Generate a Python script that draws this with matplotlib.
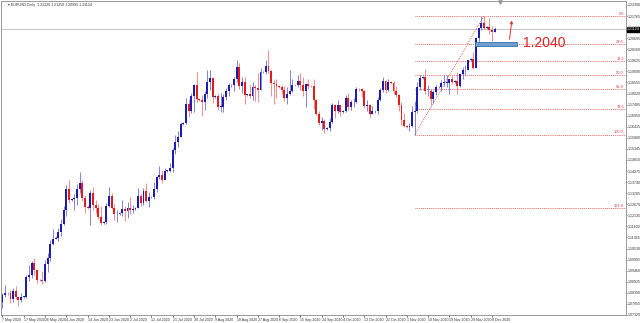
import numpy as np
import pandas as pd
import matplotlib.pyplot as plt
from matplotlib.patches import Rectangle
from matplotlib.transforms import blended_transform_factory

# EURUSD daily bars (Sun-Fri sessions), 7 May 2020 - 9 Dec 2020
first_open = 1.0795
closes = [
    1.0830, 1.0840,
    1.0838, 1.0808, 1.0849, 1.0817, 1.0805, 1.0819,
    1.0820, 1.0915, 1.0923, 1.0981, 1.0949, 1.0900,
    1.0902, 1.0897, 1.0980, 1.1008, 1.1077, 1.1100,
    1.1105, 1.1135, 1.1170, 1.1240, 1.1340, 1.1290,
    1.1292, 1.1295, 1.1340, 1.1370, 1.1298, 1.1256,
    1.1250, 1.1320, 1.1263, 1.1250, 1.1204, 1.1176,
    1.1180, 1.1260, 1.1307, 1.1250, 1.1219, 1.1220,
    1.1225, 1.1245, 1.1234, 1.1250, 1.1240, 1.1245,
    1.1248, 1.1308, 1.1274, 1.1330, 1.1285, 1.1300,
    1.1302, 1.1342, 1.1398, 1.1410, 1.1383, 1.1428,
    1.1430, 1.1443, 1.1527, 1.1568, 1.1594, 1.1656,
    1.1660, 1.1752, 1.1716, 1.1788, 1.1845, 1.1778,
    1.1770, 1.1763, 1.1800, 1.1858, 1.1875, 1.1786,
    1.1790, 1.1738, 1.1739, 1.1785, 1.1813, 1.1841,
    1.1843, 1.1870, 1.1930, 1.1838, 1.1860, 1.1795,
    1.1798, 1.1790, 1.1833, 1.1830, 1.1820, 1.1905,
    1.1908, 1.1935, 1.1913, 1.1855, 1.1850, 1.1837,
    1.1835, 1.1817, 1.1779, 1.1800, 1.1815, 1.1845,
    1.1843, 1.1865, 1.1845, 1.1815, 1.1847, 1.1840,
    1.1838, 1.1770, 1.1705, 1.1658, 1.1670, 1.1632,
    1.1635, 1.1665, 1.1745, 1.1720, 1.1746, 1.1715,
    1.1718, 1.1781, 1.1735, 1.1760, 1.1760, 1.1825,
    1.1822, 1.1813, 1.1742, 1.1746, 1.1705, 1.1717,
    1.1718, 1.1770, 1.1820, 1.1862, 1.1818, 1.1860,
    1.1855, 1.1813, 1.1795, 1.1746, 1.1675, 1.1645,
    1.1640, 1.1643, 1.1715, 1.1720, 1.1832, 1.1875,
    1.1880, 1.1812, 1.1815, 1.1775, 1.1808, 1.1833,
    1.1835, 1.1855, 1.1855, 1.1855, 1.1870, 1.1860,
    1.1865, 1.1840, 1.1895, 1.1915, 1.1915, 1.1965,
    1.1968, 1.1925, 1.2070, 1.2117, 1.2145, 1.2120,
    1.2122, 1.2110, 1.2100, 1.2114,
]
highs = [
    1.0840, 1.0875,
    1.0845, 1.0852, 1.0863, 1.0874, 1.0826, 1.0836,
    1.0825, 1.0925, 1.0975, 1.0993, 1.1008, 1.0953,
    1.0905, 1.0947, 1.0996, 1.1030, 1.1094, 1.1147,
    1.1112, 1.1154, 1.1196, 1.1257, 1.1361, 1.1384,
    1.1298, 1.1319, 1.1364, 1.1422, 1.1385, 1.1310,
    1.1262, 1.1336, 1.1350, 1.1289, 1.1270, 1.1257,
    1.1185, 1.1275, 1.1349, 1.1323, 1.1270, 1.1237,
    1.1230, 1.1287, 1.1259, 1.1278, 1.1303, 1.1262,
    1.1252, 1.1346, 1.1318, 1.1346, 1.1371, 1.1325,
    1.1308, 1.1375, 1.1406, 1.1452, 1.1434, 1.1443,
    1.1435, 1.1468, 1.1539, 1.1601, 1.1620, 1.1667,
    1.1665, 1.1781, 1.1776, 1.1806, 1.1846, 1.1908,
    1.1782, 1.1796, 1.1815, 1.1916, 1.1916, 1.1882,
    1.1795, 1.1806, 1.1805, 1.1800, 1.1829, 1.1853,
    1.1848, 1.1884, 1.1966, 1.1951, 1.1882, 1.1883,
    1.1802, 1.1845, 1.1859, 1.1844, 1.1900, 1.1925,
    1.1912, 1.1966, 1.2011, 1.1915, 1.1867, 1.1872,
    1.1840, 1.1843, 1.1838, 1.1832, 1.1917, 1.1872,
    1.1850, 1.1890, 1.1900, 1.1883, 1.1853, 1.1873,
    1.1845, 1.1870, 1.1775, 1.1720, 1.1688, 1.1680,
    1.1640, 1.1685, 1.1755, 1.1751, 1.1770, 1.1749,
    1.1722, 1.1795, 1.1806, 1.1771, 1.1781, 1.1832,
    1.1828, 1.1830, 1.1820, 1.1771, 1.1750, 1.1740,
    1.1722, 1.1785, 1.1830, 1.1880, 1.1869, 1.1870,
    1.1862, 1.1861, 1.1837, 1.1802, 1.1760, 1.1706,
    1.1650, 1.1662, 1.1743, 1.1768, 1.1860, 1.1891,
    1.1885, 1.1920, 1.1844, 1.1823, 1.1817, 1.1843,
    1.1838, 1.1866, 1.1894, 1.1891, 1.1873, 1.1891,
    1.1868, 1.1905, 1.1901, 1.1932, 1.1940, 1.1966,
    1.1972, 1.2003, 1.2077, 1.2120, 1.2175, 1.2177,
    1.2128, 1.2167, 1.2130, 1.2125,
]
lows = [
    1.0767, 1.0820,
    1.0830, 1.0792, 1.0795, 1.0808, 1.0775, 1.0795,
    1.0812, 1.0812, 1.0896, 1.0913, 1.0926, 1.0886,
    1.0895, 1.0880, 1.0890, 1.0940, 1.0993, 1.1070,
    1.1098, 1.1088, 1.1115, 1.1166, 1.1208, 1.1272,
    1.1285, 1.1241, 1.1264, 1.1322, 1.1281, 1.1225,
    1.1245, 1.1168, 1.1238, 1.1225, 1.1195, 1.1168,
    1.1172, 1.1170, 1.1255, 1.1243, 1.1190, 1.1182,
    1.1215, 1.1210, 1.1188, 1.1201, 1.1220, 1.1225,
    1.1240, 1.1248, 1.1260, 1.1264, 1.1276, 1.1252,
    1.1296, 1.1294, 1.1327, 1.1390, 1.1372, 1.1388,
    1.1424, 1.1422, 1.1424, 1.1510, 1.1545, 1.1592,
    1.1650, 1.1654, 1.1689, 1.1707, 1.1713, 1.1762,
    1.1765, 1.1696, 1.1722, 1.1781, 1.1819, 1.1755,
    1.1782, 1.1723, 1.1711, 1.1711, 1.1773, 1.1789,
    1.1836, 1.1815, 1.1860, 1.1825, 1.1803, 1.1753,
    1.1790, 1.1780, 1.1771, 1.1766, 1.1762, 1.1820,
    1.1900, 1.1896, 1.1902, 1.1789, 1.1754, 1.1781,
    1.1828, 1.1800, 1.1765, 1.1754, 1.1794, 1.1810,
    1.1838, 1.1833, 1.1820, 1.1788, 1.1737, 1.1826,
    1.1832, 1.1726, 1.1700, 1.1650, 1.1627, 1.1612,
    1.1628, 1.1623, 1.1660, 1.1682, 1.1710, 1.1696,
    1.1710, 1.1715, 1.1725, 1.1721, 1.1738, 1.1755,
    1.1815, 1.1786, 1.1730, 1.1718, 1.1689, 1.1703,
    1.1710, 1.1702, 1.1764, 1.1808, 1.1806, 1.1812,
    1.1848, 1.1802, 1.1784, 1.1718, 1.1650, 1.1640,
    1.1635, 1.1622, 1.1640, 1.1603, 1.1710, 1.1819,
    1.1870, 1.1799, 1.1788, 1.1746, 1.1758, 1.1796,
    1.1828, 1.1812, 1.1838, 1.1834, 1.1800, 1.1849,
    1.1855, 1.1801, 1.1834, 1.1872, 1.1893, 1.1915,
    1.1960, 1.1923, 1.1924, 1.2040, 1.2107, 1.2115,
    1.2115, 1.2092, 1.2058, 1.2100,
]

# fibonacci retracement drawn from the 4 Nov low to the 4 Dec high
fib_low = 1.1603
fib_high = 1.2177
fib_levels = [0.0, 23.6, 38.2, 50.0, 61.8, 78.6, 100.0, 161.8]
fib_start_date = '2020-11-04'
fib_end_date = '2020-12-04'

bid_price = 1.21124
header = '\u25be EURUSD,Daily  1.21220 1.21250 1.20995 1.21124'
note_text = '1.2040'
note_level = 1.2040
ytick_step = 0.00535
ytick_top = 1.22300

fams = ['Liberation Sans', 'DejaVu Sans']
small = dict(fontsize=2.6, family=fams, color='#333333')

dates = pd.bdate_range('2020-05-07', '2020-12-09', freq='C',
                       weekmask='Sun Mon Tue Wed Thu Fri')
closes = np.array(closes)
highs = np.array(highs)
lows = np.array(lows)
opens = np.concatenate([[first_open], closes[:-1]])
idx = np.arange(len(closes))

fig = plt.figure(figsize=(6.4, 3.23), dpi=100)
ax = fig.add_axes([1 / 640, 8 / 323, 625 / 640, 314 / 323])

bull = closes >= opens
body_col = np.where(bull, '#1c1cb4', '#e41a1c')
wick_col = np.where(bull, '#6f6fd8', '#f27a7a')
ax.vlines(idx, lows, highs, colors=wick_col, linewidth=0.6, zorder=2)
body_h = np.maximum(np.abs(closes - opens), 0.00025)
ax.bar(idx, body_h, bottom=np.minimum(opens, closes), width=0.72,
       color=body_col, linewidth=0, zorder=3)

# bid line
ax.axhline(bid_price, color='#bdbdbd', linewidth=0.6, zorder=1)

# fibonacci object
i0 = dates.get_loc(pd.Timestamp(fib_start_date))
i1 = dates.get_loc(pd.Timestamp(fib_end_date))
xmin, xmax = -0.56, 234.4
fib_col = '#e03a3a'
for lev in fib_levels:
    price = fib_high - (fib_high - fib_low) * lev / 100
    ax.plot([i0, xmax - 0.5], [price, price], color=fib_col, linewidth=0.6,
            linestyle=(0, (1, 1.3)), zorder=1)
    ax.text(xmax - 0.8, price + 0.0002, f'{lev:.1f}', color=fib_col,
            fontsize=2.8, family=fams, ha='right', va='bottom')
ax.plot([i0, i1], [fib_low, fib_high], color=fib_col, linewidth=0.6,
        linestyle=(0, (1, 1.3)), zorder=1)

# level marker, label and arrow
ax.add_patch(Rectangle((177.6, note_level - 0.0009), 15.8, 0.0019,
                       facecolor='#6d9fd2', edgecolor='#3d6fa2',
                       linewidth=0.6, zorder=4))
ax.text(195.7, note_level + 0.0007, note_text, color='#e02020', fontsize=10,
        family=fams, ha='left', va='center')
ax.annotate('', xy=(191.6, 1.2168), xytext=(190.5, note_level + 0.0011),
            arrowprops=dict(arrowstyle='-|>', color='#e03030', lw=0.7,
                            mutation_scale=4))

ax.set_xlim(xmin, xmax)
ax.set_ylim(1.07358, 1.22493)

# x ticks every 8 bars
xt = idx[::8]
ax.set_xticks(xt)
ax.set_xticklabels([f'{d.day} {d.strftime("%b %Y")}' for d in dates[xt]],
                   ha='left', **small)
ax.tick_params(axis='x', length=1.5, width=0.4, pad=0.6)

# price scale; the label under the bid box is hidden, as in the terminal
ax.yaxis.tick_right()
yt = ytick_top - ytick_step * np.arange(29)
ax.set_yticks(yt)
ax.set_yticklabels(['' if abs(v - bid_price) < 0.0027 else f'{v:.5f}'
                    for v in yt], **small)
ax.tick_params(axis='y', length=1.0, width=0.4, pad=0.4)

tr = blended_transform_factory(ax.transAxes, ax.transData)
ax.text(1.002, bid_price, f'{bid_price:.5f}', transform=tr, fontsize=2.6,
        family=fams, color='white', va='center', ha='left',
        bbox=dict(boxstyle='square,pad=0.2', facecolor='black',
                  edgecolor='black'))

# chart shift marker
ax.plot([187], [1.2244], marker='v', markersize=2.5, color='#a0a0a0',
        clip_on=False)

for s in ax.spines.values():
    s.set_color('#8a8a8a')
    s.set_linewidth(0.6)

fig.text(8 / 640, 1 - 5 / 323, header, va='center', ha='left', **small)

fig.savefig('out.png', dpi=100)
